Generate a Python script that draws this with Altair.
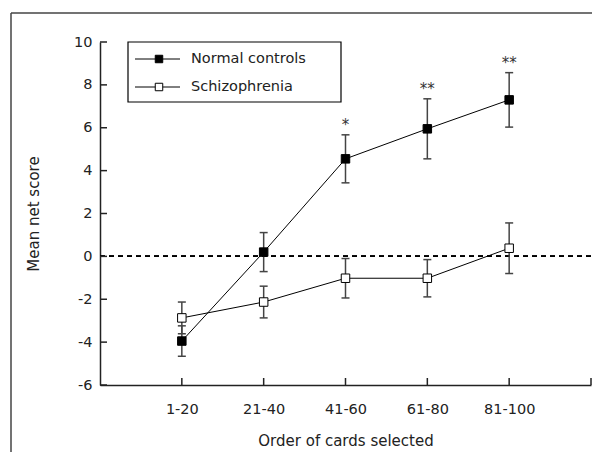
import json
import altair as alt
import pandas as pd

# ---- data ----
groups = ["1-20", "21-40", "41-60", "61-80", "81-100"]
series_names = ["Normal controls", "Schizophrenia"]
series_fill = ["black", "white"]
normal_mean = [-3.95, 0.2, 4.55, 5.95, 7.3]
normal_se = [0.71, 0.91, 1.12, 1.4, 1.27]
schizo_mean = [-2.87, -2.13, -1.02, -1.02, 0.38]
schizo_se = [0.74, 0.74, 0.92, 0.87, 1.18]
normal_sig = ["", "", "*", "**", "**"]
y_ticks = [-6, -4, -2, 0, 2, 4, 6, 8, 10]
x_ticks = [1, 2, 3, 4, 5]

FONT = "DejaVu Sans"
W, H = 491, 343

rows = []
for name, means, ses, sigs in [
    (series_names[0], normal_mean, normal_se, normal_sig),
    (series_names[1], schizo_mean, schizo_se, [""] * len(groups)),
]:
    for i, g in enumerate(groups):
        rows.append({"pos": i + 1, "group": g, "series": name,
                     "mean": means[i], "lo": means[i] - ses[i],
                     "hi": means[i] + ses[i], "sig": sigs[i]})
df = pd.DataFrame(rows)

label_expr = json.dumps(groups) + "[datum.value - 1]"

xs = alt.Scale(domain=[0, 6], nice=False, zero=False)
ys = alt.Scale(domain=[-6, 10], nice=False, zero=False)

X = alt.X("pos:Q", scale=xs,
          axis=alt.Axis(values=x_ticks, labelExpr=label_expr, ticks=False, tickSize=0,
                        grid=False, labelPadding=17, labelFontSize=14.5, labelColor="#222",
                        domainColor="#222", domainWidth=1.5,
                        title="Order of cards selected", titleFontSize=15,
                        titleFontWeight="normal", titleColor="#222",
                        titleY=55, titleBaseline="middle"))
Y = alt.Y("mean:Q", scale=ys,
          axis=alt.Axis(values=y_ticks, labelExpr="datum.value + ''", ticks=False, tickSize=0,
                        grid=False, labelPadding=8, labelFontSize=14.5, labelColor="#222",
                        domainColor="#222", domainWidth=1.5,
                        title="Mean net score", titleFontSize=15,
                        titleFontWeight="normal", titleColor="#222",
                        titleX=-67, titleBaseline="middle"))

base = alt.Chart(df)

zero_line = alt.Chart(df).mark_rule(color="black", strokeWidth=1.2, strokeDash=[5, 4]).encode(
    y=alt.datum(0, scale=ys))

lines = base.mark_line(color="black", strokeWidth=1).encode(x=X, y=Y, detail="series:N")

err = base.mark_rule(color="#444", strokeWidth=1.5).encode(
    x=alt.X("pos:Q", scale=xs), y=alt.Y("lo:Q", scale=ys), y2="hi:Q")
cap_lo = base.mark_tick(orient="horizontal", size=8, thickness=1.5, color="#444", opacity=1).encode(
    x=alt.X("pos:Q", scale=xs), y=alt.Y("lo:Q", scale=ys))
cap_hi = base.mark_tick(orient="horizontal", size=8, thickness=1.5, color="#444", opacity=1).encode(
    x=alt.X("pos:Q", scale=xs), y=alt.Y("hi:Q", scale=ys))

points = base.mark_point(shape="square", size=72, filled=True, opacity=1,
                         stroke="black", strokeWidth=1).encode(
    x=alt.X("pos:Q", scale=xs), y=alt.Y("mean:Q", scale=ys),
    fill=alt.Fill("series:N", scale=alt.Scale(domain=series_names, range=series_fill), legend=None))

stars = base.transform_filter(alt.datum.series == series_names[0]).mark_text(
    dy=-5, baseline="alphabetic", fontSize=15, color="#333", font=FONT).encode(
    x=alt.X("pos:Q", scale=xs), y=alt.Y("hi:Q", scale=ys), text="sig:N")

# inward ticks drawn through the scales
ytick_df = pd.DataFrame({"v": y_ticks})
xtick_df = pd.DataFrame({"v": x_ticks + [6]})
yticks = alt.Chart(ytick_df).mark_rule(color="#222", strokeWidth=1.5).encode(
    y=alt.Y("v:Q", scale=ys), x=alt.value(0), x2=alt.value(7))
xticks = alt.Chart(xtick_df).mark_rule(color="#222", strokeWidth=1.5).encode(
    x=alt.X("v:Q", scale=xs), y=alt.value(H), y2=alt.value(H - 7))

one = alt.InlineData(values=[{"k": 1}])

# outer frame (top and left edges)
frame_top = alt.Chart(one).mark_rule(color="#444", strokeWidth=1.5).encode(
    x=alt.value(-89), x2=alt.value(W + 10), y=alt.value(-29))
frame_left = alt.Chart(one).mark_rule(color="#444", strokeWidth=1.5).encode(
    x=alt.value(-89), y=alt.value(-29), y2=alt.value(H + 80))

# legend
legend_layers = [alt.Chart(one).mark_rect(fill="white", stroke="black", strokeWidth=1.2).encode(
    x=alt.value(28), x2=alt.value(241), y=alt.value(0), y2=alt.value(60))]
for k, (name, fc) in enumerate(zip(series_names, series_fill)):
    ry = 17 + 28 * k
    legend_layers.append(alt.Chart(one).mark_rule(color="black", strokeWidth=1).encode(
        x=alt.value(35), x2=alt.value(80), y=alt.value(ry)))
    legend_layers.append(alt.Chart(one).mark_point(shape="square", size=56, filled=True, fill=fc,
                                                   stroke="black", strokeWidth=1, opacity=1).encode(
        x=alt.value(59), y=alt.value(ry)))
    legend_layers.append(alt.Chart(one).mark_text(align="left", baseline="middle", fontSize=14.5,
                                                  color="#222", font=FONT).encode(
        x=alt.value(91), y=alt.value(ry), text=alt.value(name)))

chart = alt.layer(
    lines, zero_line, err, cap_lo, cap_hi, points, stars, yticks, xticks,
    frame_top, frame_left, *legend_layers
).properties(
    width=W, height=H,
    autosize=alt.AutoSizeParams(type="none"),
    padding={"left": 92, "top": 34, "right": 1, "bottom": 67},
).configure(font=FONT).configure_view(stroke=None)

chart.save("out.html", embed_options={"renderer": "svg", "actions": False})
